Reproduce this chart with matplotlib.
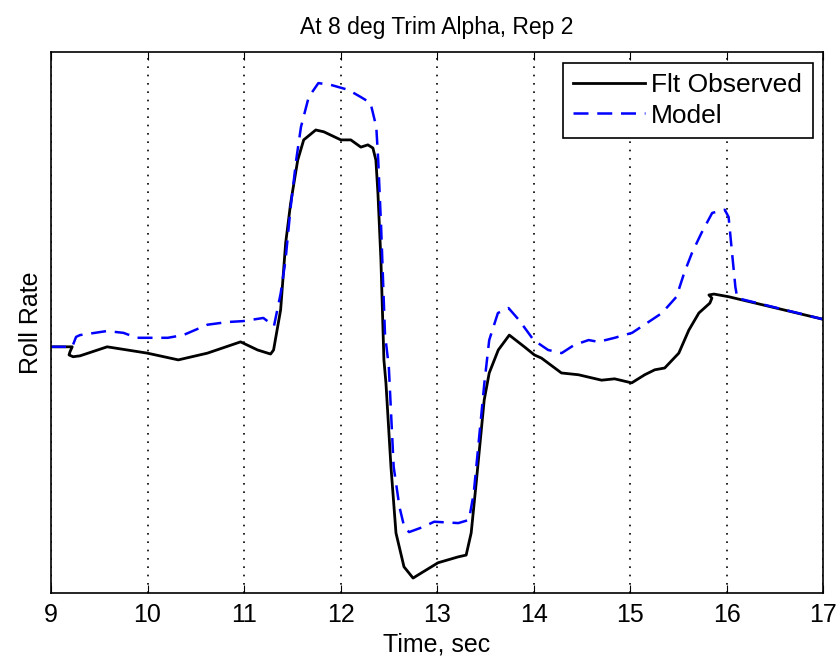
import matplotlib.pyplot as plt

plt.rcParams['font.family'] = ['Liberation Sans', 'DejaVu Sans']

# Flight observed roll rate (arbitrary units)
t_obs = [9.00, 9.22, 9.197, 9.187, 9.229, 9.301, 9.582, 9.997, 10.319, 10.621,
         10.964, 11.140, 11.275, 11.306, 11.379, 11.431, 11.483, 11.556, 11.618,
         11.743, 11.826, 12.003, 12.106, 12.210, 12.283, 12.335, 12.366, 12.387,
         12.418, 12.449, 12.470, 12.522, 12.574, 12.657, 12.751, 12.834, 13.010,
         13.218, 13.301, 13.353, 13.405, 13.488, 13.540, 13.634, 13.748, 13.904,
         14.008, 14.081, 14.288, 14.465, 14.704, 14.839, 15.016, 15.151, 15.255,
         15.358, 15.504, 15.608, 15.712, 15.826, 15.847, 15.816, 15.868, 16.023,
         17.00]
r_obs = [-5.4, -5.4, -6.5, -7.2, -7.6, -7.4, -5.4, -6.8, -8.3, -6.8,
         -4.3, -6.1, -7.0, -6.1, 2.8, 17.6, 26.5, 36.0, 40.5,
         42.7, 42.3, 40.5, 40.5, 38.9, 39.4, 38.7, 36.0, 28.7,
         13.9, -8.3, -13.4, -32.0, -46.7, -54.2, -56.7, -55.6, -53.3,
         -52.0, -51.6, -46.7, -35.6, -17.2, -11.2, -6.1, -2.8, -5.4,
         -7.2, -7.9, -11.2, -11.6, -12.8, -12.5, -13.4, -11.6, -10.5,
         -10.1, -6.8, -1.7, 2.1, 4.3, 5.4, 6.1, 6.3, 5.7,
         0.7]

# Model roll rate
t_mod = [9.00, 9.22, 9.26, 9.30, 9.58, 9.75, 9.89, 10.10, 10.21, 10.37, 10.62,
         10.83, 10.99, 11.20, 11.31, 11.38, 11.43, 11.48, 11.54, 11.59, 11.67,
         11.77, 11.90, 12.08, 12.21, 12.31, 12.37, 12.39, 12.42, 12.46,
         12.50, 12.55, 12.61, 12.66, 12.71, 12.85, 12.97, 13.22, 13.33, 13.38,
         13.44, 13.49, 13.54, 13.63, 13.74, 13.85, 14.00, 14.15, 14.29, 14.42,
         14.57, 14.67, 14.84, 15.02, 15.19, 15.33, 15.48, 15.56, 15.64, 15.74,
         15.85, 15.98, 16.02, 16.05, 16.09, 16.11, 17.00]
r_mod = [-5.4, -5.4, -3.2, -2.8, -1.9, -2.3, -3.4, -3.4, -3.4, -2.8, -0.5,
         0.1, 0.3, 1.0, -0.8, 6.5, 13.9, 25.0, 36.0, 43.4, 50.0,
         53.1, 52.7, 51.6, 50.0, 48.7, 43.4, 36.0, 21.2, -2.5,
         -9.9, -32.0, -40.9, -45.4, -46.5, -45.4, -44.2, -44.5, -43.8, -37.8,
         -24.5, -13.4, -3.9, 2.1, 3.2, 0.5, -3.9, -6.1, -6.8, -5.0,
         -3.9, -4.3, -3.4, -2.3, 0.1, 2.1, 5.7, 11.0, 15.4, 19.9,
         24.3, 25.0, 23.4, 16.7, 7.9, 5.4, 0.7]

xticks = [9, 10, 11, 12, 13, 14, 15, 16, 17]

fig = plt.figure(figsize=(8.4, 6.64), dpi=100)
ax = fig.add_axes([0.0607, 0.107, 0.9193, 0.8147])

ax.plot(t_obs, r_obs, '-k', lw=2.0, label='Flt Observed')
ax.plot(t_mod, r_mod, '--', color='#0000ff', lw=1.8, dashes=(6, 3.5), label='Model')

ax.set_xlim(9, 17)
ax.set_ylim(-60, 60)
ax.set_xticks(xticks)
ax.set_yticks([])
ax.tick_params(axis='x', direction='in', top=True, length=6, labelsize=18, pad=7)
ax.grid(axis='x', color='k', linestyle=(0, (1, 4)), lw=1.2)
for s in ax.spines.values():
    s.set_linewidth(1.2)

ax.set_xlabel('Time, sec', fontsize=18, labelpad=4)
ax.set_ylabel('Roll Rate', fontsize=18, labelpad=6)
ax.set_title('At 8 deg Trim Alpha, Rep 2', fontsize=16.5, pad=13)

leg = ax.legend(loc='upper right', fontsize=19, handlelength=2.7, fancybox=False,
                framealpha=1, edgecolor='k', borderpad=0.4, labelspacing=0.25,
                handletextpad=0.25, borderaxespad=0.4)
leg.get_frame().set_linewidth(1.2)

plt.savefig('out.png', dpi=100)
